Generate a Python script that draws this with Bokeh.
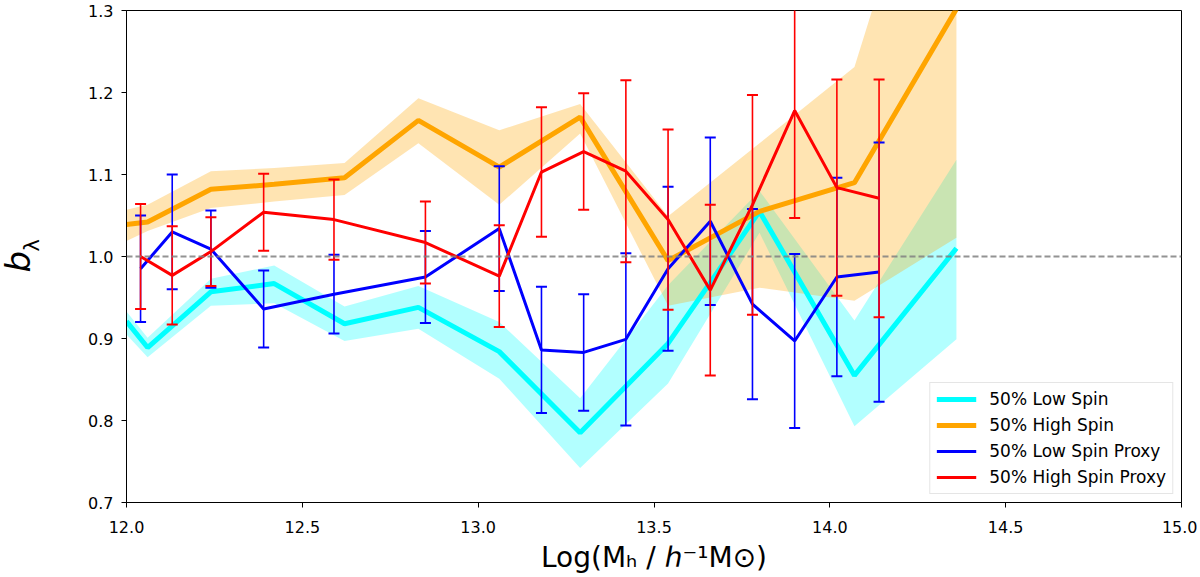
import numpy as np

from bokeh.plotting import figure
from bokeh.models import ColumnDataSource, Span, Label, Range1d, FixedTicker, PrintfTickFormatter
from bokeh.embed import file_html
from bokeh.resources import INLINE

# halo mass bins of the true-spin split (log10 M_h / h^-1 Msun)
mass = [12.00, 12.06, 12.24, 12.42, 12.62, 12.83, 13.06, 13.29, 13.54, 13.80, 14.07, 14.36]

low_spin = [0.921, 0.889, 0.957, 0.967, 0.918, 0.938, 0.884, 0.785, 0.894, 1.055, 0.855, 1.010]
low_spin_lo = [0.905, 0.877, 0.940, 0.943, 0.897, 0.912, 0.851, 0.742, 0.845, 1.029, 0.793, 0.899]
low_spin_hi = [0.933, 0.901, 0.973, 0.989, 0.939, 0.964, 0.920, 0.827, 0.965, 1.080, 0.922, 1.118]

high_spin = [1.039, 1.042, 1.082, 1.088, 1.096, 1.166, 1.109, 1.170, 0.995, 1.055, 1.090, 1.302]
high_spin_lo = [1.019, 1.031, 1.059, 1.067, 1.075, 1.138, 1.063, 1.150, 0.940, 0.962, 0.946, 1.023]
high_spin_hi = [1.057, 1.063, 1.104, 1.108, 1.114, 1.193, 1.154, 1.186, 1.049, 1.138, 1.231, 1.630]

# bins of the spin-proxy split
proxy_mass = [12.04, 12.13, 12.24, 12.39, 12.59, 12.85, 13.06, 13.18,
              13.30, 13.42, 13.54, 13.66, 13.78, 13.90, 14.02, 14.14]

low_proxy = [0.985, 1.030, 1.009, 0.936, 0.954, 0.975, 1.034, 0.886,
             0.883, 0.899, 0.985, 1.043, 0.942, 0.897, 0.975, 0.981]
low_proxy_err = [0.065, 0.070, 0.047, 0.047, 0.048, 0.056, 0.076, 0.077,
                 0.071, 0.105, 0.100, 0.102, 0.116, 0.106, 0.121, 0.158]

high_proxy = [1.000, 0.977, 1.006, 1.054, 1.045, 1.017, 0.976, 1.103,
              1.128, 1.104, 1.045, 0.959, 1.063, 1.178, 1.084, 1.071]
high_proxy_err = [0.064, 0.060, 0.042, 0.047, 0.049, 0.050, 0.062, 0.079,
                  0.071, 0.111, 0.110, 0.104, 0.134, 0.131, 0.132, 0.145]

x_ticks = [12.0, 12.5, 13.0, 13.5, 14.0, 14.5, 15.0]
y_ticks = [0.7, 0.8, 0.9, 1.0, 1.1, 1.2, 1.3]

FONT = "DejaVu Sans"

p = figure(width=1197, height=577, x_range=Range1d(12.0, 15.0), y_range=Range1d(0.7, 1.3),
           min_border_left=126, min_border_right=16, min_border_top=10, min_border_bottom=75,
           output_backend="svg", toolbar_location=None)

band_src = ColumnDataSource(dict(x=mass, low=low_spin, low_lo=low_spin_lo, low_hi=low_spin_hi,
                                 high=high_spin, high_lo=high_spin_lo, high_hi=high_spin_hi))

p.varea(x="x", y1="low_lo", y2="low_hi", source=band_src, fill_color="cyan", fill_alpha=0.3)
p.varea(x="x", y1="high_lo", y2="high_hi", source=band_src, fill_color="orange", fill_alpha=0.3)

p.add_layout(Span(location=1.0, dimension="width", line_color="gray", line_alpha=0.85,
                  line_width=1.8, line_dash="6 3"))

p.line("x", "low", source=band_src, line_color="cyan", line_width=5, legend_label="50% Low Spin")
p.line("x", "high", source=band_src, line_color="orange", line_width=5, legend_label="50% High Spin")


def errorbar(y, err, color, label):
    y = np.array(y)
    err = np.array(err)
    src = ColumnDataSource(dict(x=proxy_mass, y=y, lo=y - err, hi=y + err))
    p.segment(x0="x", y0="lo", x1="x", y1="hi", source=src, line_color=color, line_width=1.6)
    p.scatter("x", "lo", source=src, marker="dash", size=11, line_color=color, line_width=2)
    p.scatter("x", "hi", source=src, marker="dash", size=11, line_color=color, line_width=2)
    p.line("x", "y", source=src, line_color=color, line_width=3, legend_label=label)


errorbar(low_proxy, low_proxy_err, "blue", "50% Low Spin Proxy")
errorbar(high_proxy, high_proxy_err, "red", "50% High Spin Proxy")

# axes
p.grid.visible = False
p.outline_line_color = "black"
p.outline_line_alpha = 1.0
p.axis.axis_line_color = "black"
p.axis.major_tick_line_color = "black"
p.axis.major_tick_out = 5
p.axis.major_tick_in = 0
p.axis.minor_tick_out = 0
p.axis.minor_tick_in = 0
p.axis.major_label_text_font = FONT
p.axis.major_label_text_font_size = "16px"
p.axis.major_label_text_color = "black"
p.xaxis.ticker = FixedTicker(ticks=x_ticks)
p.yaxis.ticker = FixedTicker(ticks=y_ticks)
p.axis.formatter = PrintfTickFormatter(format="%.1f")
p.xaxis.major_label_standoff = 13
p.yaxis.major_label_standoff = 8

p.xaxis.axis_label = "Log(M\u2095 / \u210e\u207b\u00b9M\u2299)"
p.xaxis.axis_label_text_font = FONT
p.xaxis.axis_label_text_font_size = "28px"
p.xaxis.axis_label_text_font_style = "normal"
p.xaxis.axis_label_text_color = "black"
p.xaxis.axis_label_standoff = 5

# y label: italic b with subscript lambda, kept in the left panel so it is not clipped
p.add_layout(Label(x=11.6915, y=0.9805, text="b", angle=np.pi / 2,
                   text_font=FONT, text_font_style="italic", text_font_size="34px",
                   text_color="black", text_baseline="alphabetic"), "left")
p.add_layout(Label(x=11.73, y=1.006, text="\u03bb", angle=np.pi / 2,
                   text_font=FONT, text_font_size="21px", text_color="black",
                   text_baseline="alphabetic"), "left")

p.legend.location = "bottom_right"
p.legend.margin = 8
p.legend.padding = 6
p.legend.spacing = 6
p.legend.glyph_width = 40
p.legend.glyph_height = 20
p.legend.label_height = 20
p.legend.label_standoff = 13
p.legend.label_text_font = FONT
p.legend.label_text_font_size = "17px"
p.legend.label_text_color = "black"
p.legend.border_line_color = "#cccccc"
p.legend.background_fill_alpha = 0.8

open("out.html", "w").write(file_html(p, INLINE))
